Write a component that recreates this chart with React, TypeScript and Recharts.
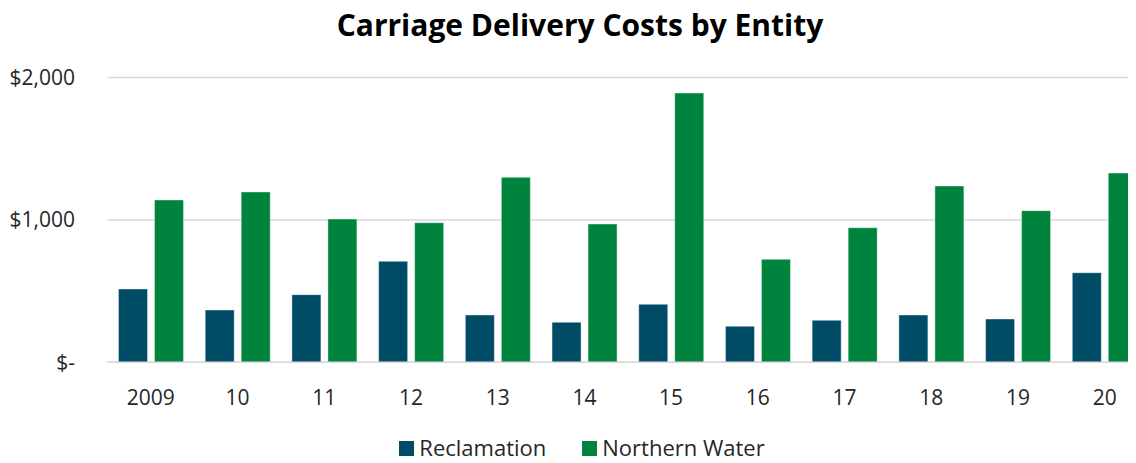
import React from "react";
import { BarChart, Bar, XAxis, YAxis, CartesianGrid, Legend } from "recharts";

const years = ["2009", "10", "11", "12", "13", "14", "15", "16", "17", "18", "19", "20"];
const reclamation = [515, 367, 475, 709, 332, 281, 407, 253, 295, 332, 304, 629];
const northernWater = [1140, 1196, 1006, 980, 1299, 971, 1891, 723, 945, 1238, 1065, 1329];
const yTicks = [0, 1000, 2000];
const seriesNames = ["Reclamation", "Northern Water"];

const RECLAMATION_COLOR = "#004B66";
const NORTHERN_COLOR = "#00843D";
const FONT = "'Open Sans', 'Noto Sans', sans-serif";
const TEXT_COLOR = "#262626";

const data = years.map((y, i) => ({
  year: y,
  Reclamation: reclamation[i],
  "Northern Water": northernWater[i],
}));

const fmt = (v: number) => (v === 0 ? "$-" : "$" + v.toLocaleString("en-US"));

const LegendContent = (props: any) => {
  const payload = [...(props.payload || [])].sort(
    (a: any, b: any) => seriesNames.indexOf(a.value) - seriesNames.indexOf(b.value)
  );
  return (
    <div
      style={{
        display: "flex",
        justifyContent: "center",
        alignItems: "center",
        height: 24,
        fontFamily: FONT,
        fontSize: 22,
        lineHeight: "24px",
        color: TEXT_COLOR,
        paddingLeft: 4,
      }}
    >
      {payload.map((p: any, i: number) => (
        <div key={i} style={{ display: "flex", alignItems: "center", marginRight: i === 0 ? 36 : 0 }}>
          <div style={{ width: 15, height: 15, background: p.color, marginRight: 5, marginTop: 2 }} />
          <div style={{ display: "block", height: 24, lineHeight: "24px", whiteSpace: "nowrap" }}>{p.value}</div>
        </div>
      ))}
    </div>
  );
};

export default function App() {
  return (
    <div
      style={{
        position: "relative",
        marginLeft: -8,
        marginTop: -8,
        width: 1136,
        height: 463,
        overflow: "hidden",
        background: "#fff",
      }}
    >
      <div
        style={{
          position: "absolute",
          top: 10,
          left: 0,
          width: 1160,
          textAlign: "center",
          fontFamily: FONT,
          fontWeight: 700,
          fontSize: 30,
          lineHeight: "30px",
          color: "#000",
        }}
      >
        Carriage Delivery Costs by Entity
      </div>
      <BarChart
        width={1160}
        height={463}
        data={data}
        margin={{ top: 77.5, right: 12, left: 0, bottom: 36.7 }}
        barSize={29}
        barGap={7}
      >
        <CartesianGrid vertical={false} stroke="#d9d9d9" strokeWidth={1.5} />
        <XAxis
          dataKey="year"
          axisLine={{ stroke: "#d9d9d9", strokeWidth: 1.5 }}
          tickLine={false}
          tickMargin={22}
          height={40}
          tick={{ fill: TEXT_COLOR, fontSize: 21, fontFamily: FONT }}
          interval={0}
        />
        <YAxis
          width={107.5}
          domain={[0, 2000]}
          ticks={yTicks}
          tickFormatter={fmt}
          axisLine={false}
          tickLine={false}
          tickMargin={26.5}
          tick={{ fill: TEXT_COLOR, fontSize: 21, fontFamily: FONT }}
        />
        <Legend
          verticalAlign="bottom"
          content={LegendContent}
          wrapperStyle={{ left: 0, width: 1160, bottom: 4 }}
        />
        <Bar
          dataKey="Reclamation"
          fill={RECLAMATION_COLOR}
          stroke="#ffffff"
          strokeOpacity={0.4}
          isAnimationActive={false}
        />
        <Bar
          dataKey="Northern Water"
          fill={NORTHERN_COLOR}
          stroke="#ffffff"
          strokeOpacity={0.4}
          isAnimationActive={false}
        />
      </BarChart>
    </div>
  );
}
